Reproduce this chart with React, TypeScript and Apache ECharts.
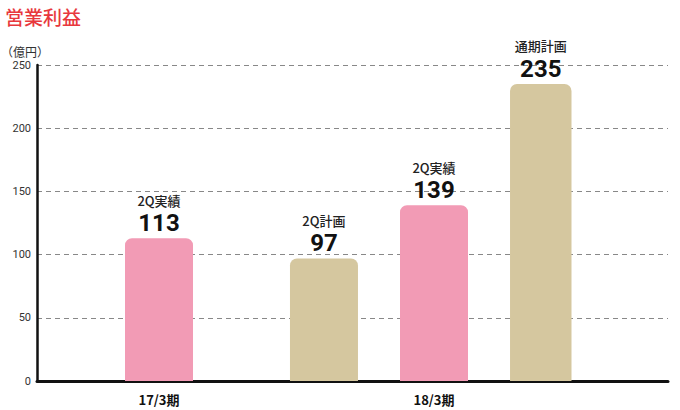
import React, { useEffect, useRef } from "react";
import * as echarts from "echarts";

const categories = ["17/3期", "18/3期"];
const seriesNames = ["2Q計画", "2Q実績", "通期計画"];
const plan2Q: (number | null)[] = [null, 97];
const actual2Q: (number | null)[] = [113, 139];
const planFull: (number | null)[] = [null, 235];
const yTicks = [0, 50, 100, 150, 200, 250];

const PINK = "#f29bb5";
const TAN = "#d5c79f";

export default function App() {
  const ref = useRef<HTMLDivElement>(null);
  useEffect(() => {
    if (!ref.current) return;
    const chart = echarts.init(ref.current, undefined, { renderer: "svg" });
    const fontNum = "Roboto, sans-serif";
    const fontJp = "'Noto Sans CJK JP', sans-serif";
    const mkSeries = (name: string, data: (number | null)[], color: string) => ({
      type: "bar",
      name,
      xAxisIndex: 1,
      yAxisIndex: 1,
      data,
      barWidth: 68,
      barGap: "61.8%",
      itemStyle: { color, borderRadius: [7, 7, 0, 0] },
      label: {
        show: true,
        position: "top",
        distance: 2,
        formatter: (p: any) => `{a|${name}}\n{b|${p.value}}`,
        rich: {
          a: { fontFamily: fontJp, fontSize: 13, fontWeight: 500, color: "#222", lineHeight: 20, align: "center" },
          b: { fontFamily: fontNum, fontSize: 24, fontWeight: "bold", color: "#111", lineHeight: 26, align: "center" },
        },
      },
    });
    chart.setOption({
      animation: false,
      title: [
        { text: "営業利益", left: 0, top: 2, textStyle: { color: "#e8383d", fontSize: 19, fontWeight: 500, fontFamily: fontJp } },
        { text: "（億円）", left: -4, top: 40, textStyle: { color: "#333", fontSize: 12, fontWeight: "normal", fontFamily: fontJp } },
      ],
      grid: [
        { left: 37, right: 12, top: 65, bottom: 29 },
        { left: 21.5, right: 108.5, top: 65, bottom: 29 },
      ],
      xAxis: [
        {
          type: "value",
          gridIndex: 0,
          min: 0,
          max: 1,
          axisLine: { show: true, lineStyle: { color: "#111", width: 3 } },
          axisTick: { show: false },
          axisLabel: { show: false },
          splitLine: { show: false },
        },
        {
          type: "category",
          gridIndex: 1,
          data: categories,
          axisLine: { show: false },
          axisTick: { show: false },
          axisLabel: { color: "#111", fontSize: 13, fontWeight: "bold", fontFamily: fontJp, margin: 12 },
        },
      ],
      yAxis: [
        {
          type: "value",
          gridIndex: 0,
          min: yTicks[0],
          max: yTicks[yTicks.length - 1],
          interval: 50,
          axisLine: { show: true, lineStyle: { color: "#111", width: 2.5 } },
          axisTick: { show: false },
          axisLabel: { color: "#333", fontSize: 11, fontFamily: fontNum, margin: 6 },
          splitLine: { show: true, lineStyle: { color: "#888", type: [5, 4], width: 1 } },
        },
        {
          type: "value",
          gridIndex: 1,
          min: yTicks[0],
          max: yTicks[yTicks.length - 1],
          show: false,
          splitLine: { show: false },
        },
      ],
      series: [
        mkSeries(seriesNames[0], plan2Q, TAN),
        mkSeries(seriesNames[1], actual2Q, PINK),
        mkSeries(seriesNames[2], planFull, TAN),
      ],
    });
    return () => chart.dispose();
  }, []);
  return <div ref={ref} style={{ position: "fixed", left: 0, top: 0, width: 680, height: 410, background: "#fff" }} />;
}
